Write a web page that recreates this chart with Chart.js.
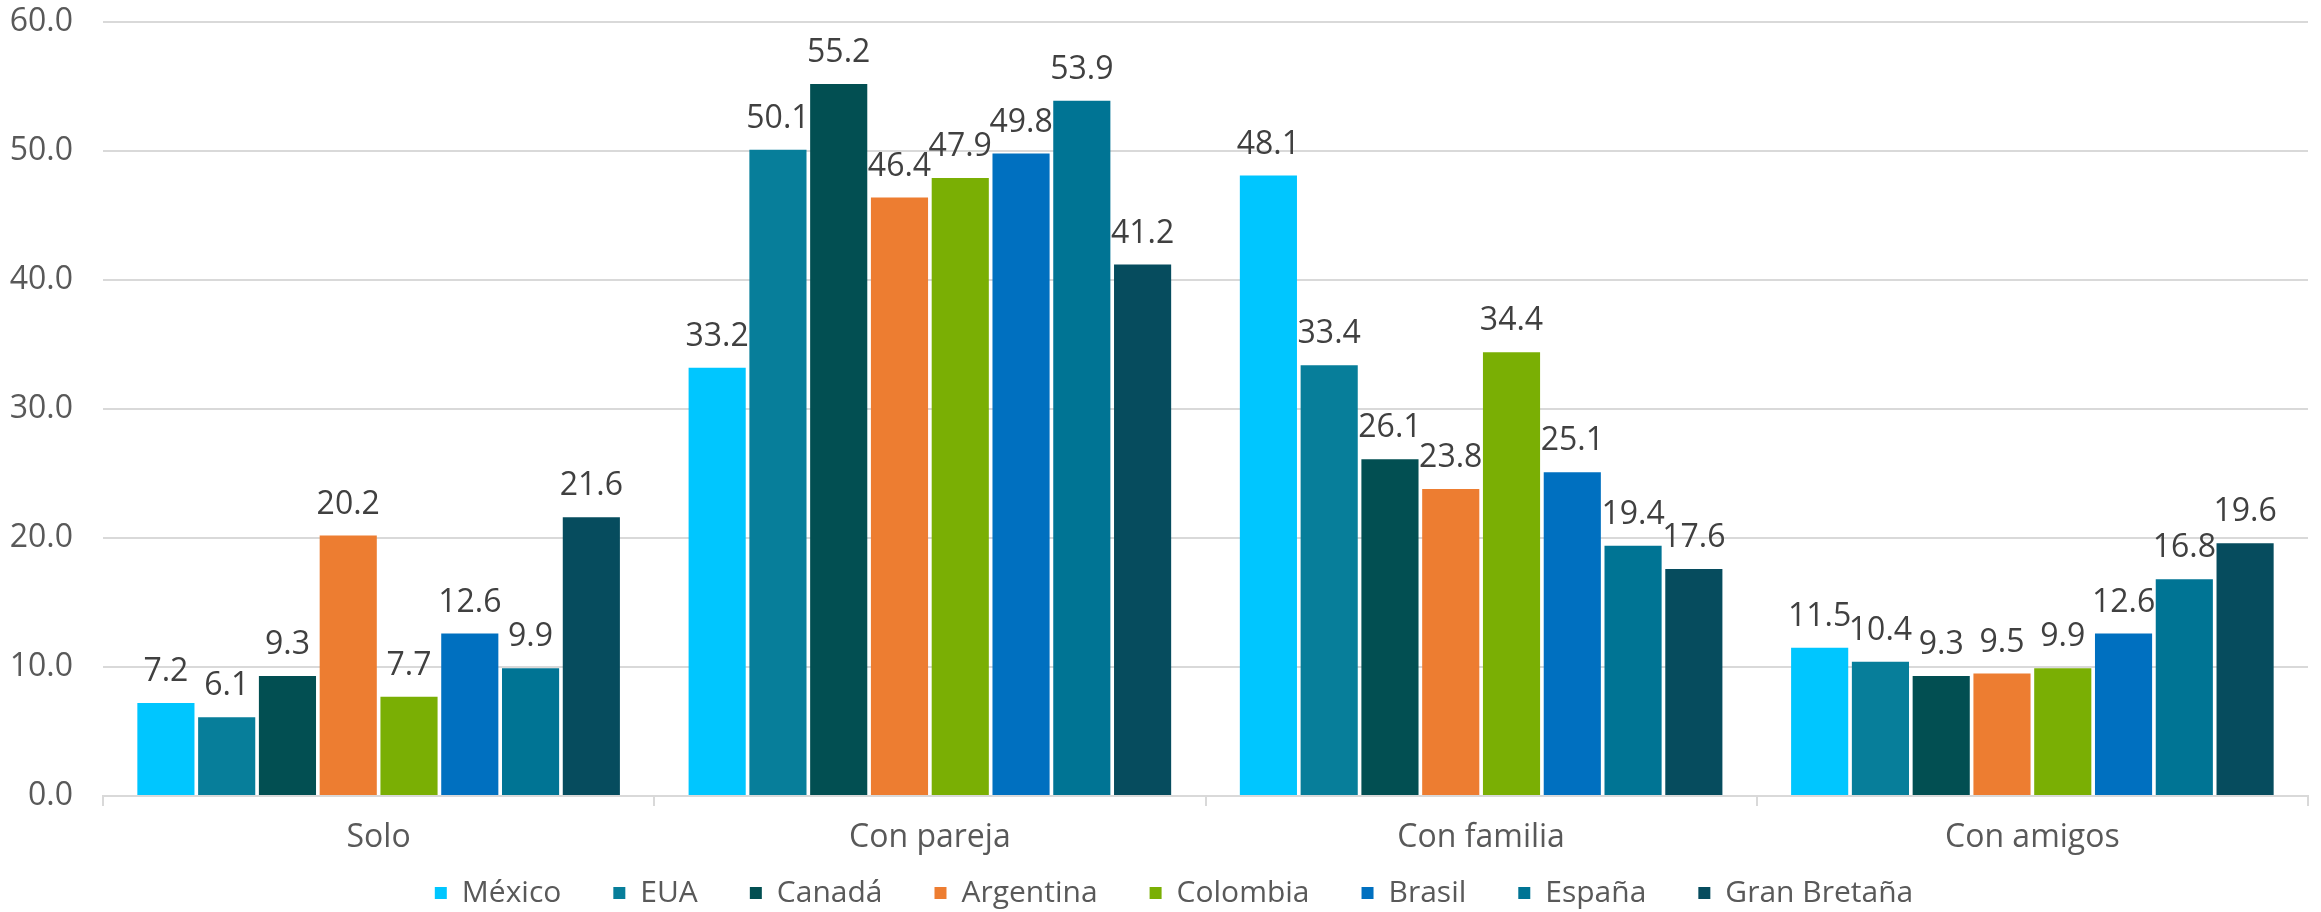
<!DOCTYPE html>
<html>
<head>
<meta charset="utf-8">
<script src="https://cdn.jsdelivr.net/npm/chart.js@4/dist/chart.umd.min.js"></script>
<style>
  html, body { margin: 0; padding: 0; background: #fff; }
  #wrap { width: 2321px; height: 912px; }
</style>
</head>
<body>
<div id="wrap"><canvas id="companyChart" width="2321" height="912"></canvas></div>
<script>
// categories on the x axis
const categories = ['Solo', 'Con pareja', 'Con familia', 'Con amigos'];

// one series per country, values per category
const mexico = [7.2, 33.2, 48.1, 11.5];
const eua = [6.1, 50.1, 33.4, 10.4];
const canada = [9.3, 55.2, 26.1, 9.3];
const argentina = [20.2, 46.4, 23.8, 9.5];
const colombia = [7.7, 47.9, 34.4, 9.9];
const brasil = [12.6, 49.8, 25.1, 12.6];
const espana = [9.9, 53.9, 19.4, 16.8];
const granBretana = [21.6, 41.2, 17.6, 19.6];

const seriesNames = ['México', 'EUA', 'Canadá', 'Argentina', 'Colombia', 'Brasil', 'España', 'Gran Bretaña'];
const seriesValues = [mexico, eua, canada, argentina, colombia, brasil, espana, granBretana];
const seriesColors = ['#00C6FF', '#077E9A', '#024F52', '#ED7D31', '#7AAF04', '#0070C0', '#007494', '#064C5E'];

// y axis ticks
const yMin = 0;
const yMax = 60;
const yStep = 10;

const FONT = '"Open Sans", "Noto Sans", sans-serif';
const GRID = '#D9D9D9';

/**
 * Draw the value above each bar
 */
const valueLabels = {
  id: 'valueLabels',
  afterDatasetsDraw(chart) {
    const ctx = chart.ctx;
    ctx.save();
    ctx.font = '32px ' + FONT;
    ctx.fillStyle = '#404040';
    ctx.textAlign = 'center';
    ctx.textBaseline = 'middle';
    chart.data.datasets.forEach((ds, i) => {
      chart.getDatasetMeta(i).data.forEach((bar, j) => {
        ctx.fillText(ds.data[j].toFixed(1), bar.x, bar.y - 31);
      });
    });
    ctx.restore();
  }
};

/**
 * Legend padding is used both between items and above them,
 * so pull the legend up a bit after layout (and nudge it right)
 */
const legendLift = {
  id: 'legendLift',
  afterLayout(chart) {
    const lg = chart.legend;
    if (!lg) return;
    lg.top -= 31;
    lg.bottom = chart.height;
    lg.left += 20;
    lg.right += 20;
  }
};

const datasets = seriesNames.map((name, i) => ({
  label: name,
  data: seriesValues[i],
  backgroundColor: seriesColors[i],
  borderWidth: 0,
  categoryPercentage: 0.882,
  barPercentage: 0.94
}));

const ctx = document.getElementById('companyChart').getContext('2d');
new Chart(ctx, {
  type: 'bar',
  data: { labels: categories, datasets: datasets },
  plugins: [valueLabels, legendLift],
  options: {
    responsive: false,
    devicePixelRatio: 1,
    animation: false,
    layout: { padding: { left: 0, right: 13, top: 22, bottom: 0 } },
    plugins: {
      tooltip: { enabled: false },
      legend: {
        position: 'bottom',
        maxHeight: 55,
        labels: {
          boxWidth: 12,
          boxHeight: 12,
          padding: 52,
          color: '#595959',
          font: { family: FONT, size: 30 }
        }
      }
    },
    scales: {
      x: {
        afterFit(scale) { scale.height = 61; },
        grid: {
          drawOnChartArea: false,
          drawTicks: true,
          tickLength: 10,
          color: GRID,
          lineWidth: 2
        },
        border: { color: GRID, width: 2 },
        ticks: {
          padding: 13,
          color: '#595959',
          font: { family: FONT, size: 32 }
        }
      },
      y: {
        min: yMin,
        max: yMax,
        afterFit(scale) {
          scale.width = 103;
          scale.paddingTop = 0;
          scale.paddingBottom = 0;
        },
        grid: { color: GRID, lineWidth: 2, drawTicks: false },
        border: { display: false },
        ticks: {
          stepSize: yStep,
          padding: 30,
          color: '#595959',
          font: { family: FONT, size: 32 },
          callback: v => v.toFixed(1)
        }
      }
    }
  }
});
</script>
</body>
</html>
